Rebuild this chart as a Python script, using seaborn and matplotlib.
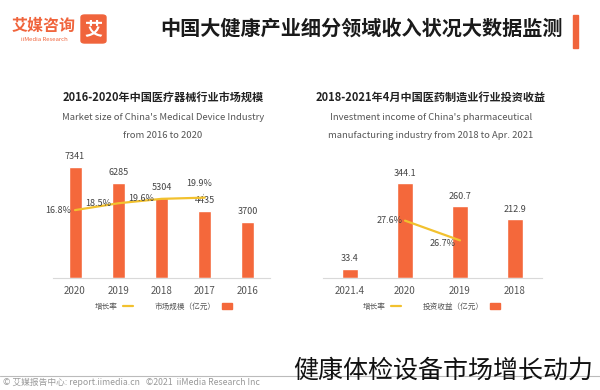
import numpy as np
import pandas as pd
import matplotlib
matplotlib.use("Agg")
import matplotlib.pyplot as plt
from matplotlib.patches import Rectangle, Patch, FancyBboxPatch
from matplotlib.lines import Line2D
import seaborn as sns

sns.set_style("white")
plt.rcParams['font.family'] = ['Noto Sans CJK SC', 'DejaVu Sans']

# data - left panel (medical device market size)
years_a = ['2016', '2017', '2018', '2019', '2020']
market_size = [3700, 4435, 5304, 6285, 7341]
growth_a = [None, 19.9, 19.6, 18.5, 16.8]

# data - right panel (pharma manufacturing investment income)
years_b = ['2018', '2019', '2020', '2021.4']
invest_income = [212.9, 260.7, 344.1, 33.4]
growth_b = [None, 26.7, 27.6, None]

BAR = '#F4683B'
LINE = '#F2C12E'
TXT = '#444444'

fig = plt.figure(figsize=(6, 3.9), dpi=100)
W, H = 600, 390


def fx(px):
    return px / W


def fy(py):
    return 1 - py / H


def panel(rect, cats, vals, growth, ylim, glim, fmt, title, sub1, sub2, leg_label, cx, label_pos):
    ax = fig.add_axes(rect)
    df = pd.DataFrame({'cat': cats, 'val': vals})
    sns.barplot(data=df, x='cat', y='val', order=cats, color=BAR, width=0.3,
                saturation=1, ax=ax)
    n = len(cats)
    ax.set_xlim(n - 0.5, -0.5)  # reference is laid out right-to-left
    ax.set_ylim(*ylim)
    ax.bar_label(ax.containers[0], labels=[fmt.format(v) for v in vals],
                 padding=4, fontsize=6.5, color=TXT)
    ax.set_xlabel('')
    ax.set_ylabel('')
    ax.set_yticks([])
    ax.tick_params(axis='x', length=0, labelsize=7, labelcolor='#555555', pad=6)
    for s in ['top', 'left', 'right']:
        ax.spines[s].set_visible(False)
    ax.spines['bottom'].set_color('#d9d9d9')
    ax.spines['bottom'].set_linewidth(0.8)

    ax2 = ax.twinx()
    gdf = pd.DataFrame({'pos': np.arange(n), 'g': growth}).dropna()
    sns.lineplot(data=gdf, x='pos', y='g', color=LINE, linewidth=1.6, ax=ax2)
    ax2.set_ylim(*glim)
    ax2.set_yticks([])
    ax2.set_ylabel('')
    for s in ['top', 'left', 'right', 'bottom']:
        ax2.spines[s].set_visible(False)
    for p, g in zip(gdf['pos'], gdf['g']):
        off, ha, arrow = label_pos.get(p, ((-4, 0), 'right', False))
        kw = dict(arrowprops=dict(arrowstyle='-', color='#999999', lw=0.5)) if arrow else {}
        ax2.annotate(f'{g:.1f}%', (p, g), textcoords='offset points', xytext=off,
                     ha=ha, va='center', fontsize=6.5, color=TXT, **kw)

    fig.text(fx(cx), fy(97), title, ha='center', va='center', fontsize=8,
             fontweight='bold', color='#222222')
    fig.text(fx(cx), fy(118), sub1, ha='center', va='center', fontsize=6.8, color='#555555')
    fig.text(fx(cx), fy(135), sub2, ha='center', va='center', fontsize=6.8, color='#555555')

    handles = [Line2D([0], [0], color=LINE, lw=1.6), Patch(color=BAR)]
    fig.legend(handles, ['增长率', leg_label], loc='center', bbox_to_anchor=(fx(cx), fy(307)),
               ncol=2, frameon=False, markerfirst=False, fontsize=5.5,
               handlelength=1.3, handleheight=0.8, columnspacing=2.8, labelcolor='#555555')
    return ax


panel([fx(53.4), fy(277.7), fx(216.2), 120.7 / H], years_a, market_size, growth_a,
      (0, 8000), (0, 30), '{:.0f}',
      '2016-2020年中国医疗器械行业市场规模',
      "Market size of China's Medical Device Industry",
      'from 2016 to 2020', '市场规模（亿元）', 163,
      {1: ((-4, 10), 'center', True), 2: ((-5, 0), 'right', False),
       3: ((-5, 0), 'right', False), 4: ((-3, 0), 'right', False)})

panel([fx(322.5), fy(277.7), fx(220), 120.7 / H], years_b, invest_income, growth_b,
      (0, 440), (25.0, 30.5), '{:.1f}',
      '2018-2021年4月中国医药制造业行业投资收益',
      "Investment income of China's pharmaceutical",
      'manufacturing industry from 2018 to Apr. 2021', '投资收益（亿元）', 431,
      {1: ((-3, -2), 'right', False), 2: ((-2, 0), 'right', False)})

# header
fig.text(fx(563), fy(28), '中国大健康产业细分领域收入状况大数据监测', ha='right', va='center',
         fontsize=14.5, fontweight='bold', color='#1a1a1a')
fig.patches.append(Rectangle((fx(573), fy(48)), fx(5), 33 / H, transform=fig.transFigure,
                             color='#F0643C'))
fig.patches.append(FancyBboxPatch((fx(81), fy(43)), fx(25), 28 / H, transform=fig.transFigure,
                                  boxstyle='round,pad=0,rounding_size=0.006', color='#F0643C'))
fig.text(fx(93.5), fy(29), '艾', ha='center', va='center', fontsize=13, fontweight='bold',
         color='white')
fig.text(fx(44), fy(26), '艾媒咨询', ha='center', va='center', fontsize=11.5,
         fontweight='bold', color='#F0643C')
fig.text(fx(44), fy(39.5), 'iiMedia Research', ha='center', va='center', fontsize=4.3,
         color='#F0643C')

# footer
fig.add_artist(Line2D([0, 1], [fy(376), fy(376)], transform=fig.transFigure,
                      color='#bbbbbb', lw=0.8))
fig.text(fx(3), fy(382), '© 艾媒报告中心: report.iimedia.cn   ©2021  iiMedia Research Inc',
         ha='left', va='center', fontsize=6.3, color='#999999')
fig.text(fx(293), fy(371), '健康体检设备市场增长动力', ha='left', va='center', fontsize=18,
         fontweight='light', color='#111111')

fig.savefig('out.png', dpi=100, facecolor='white')
